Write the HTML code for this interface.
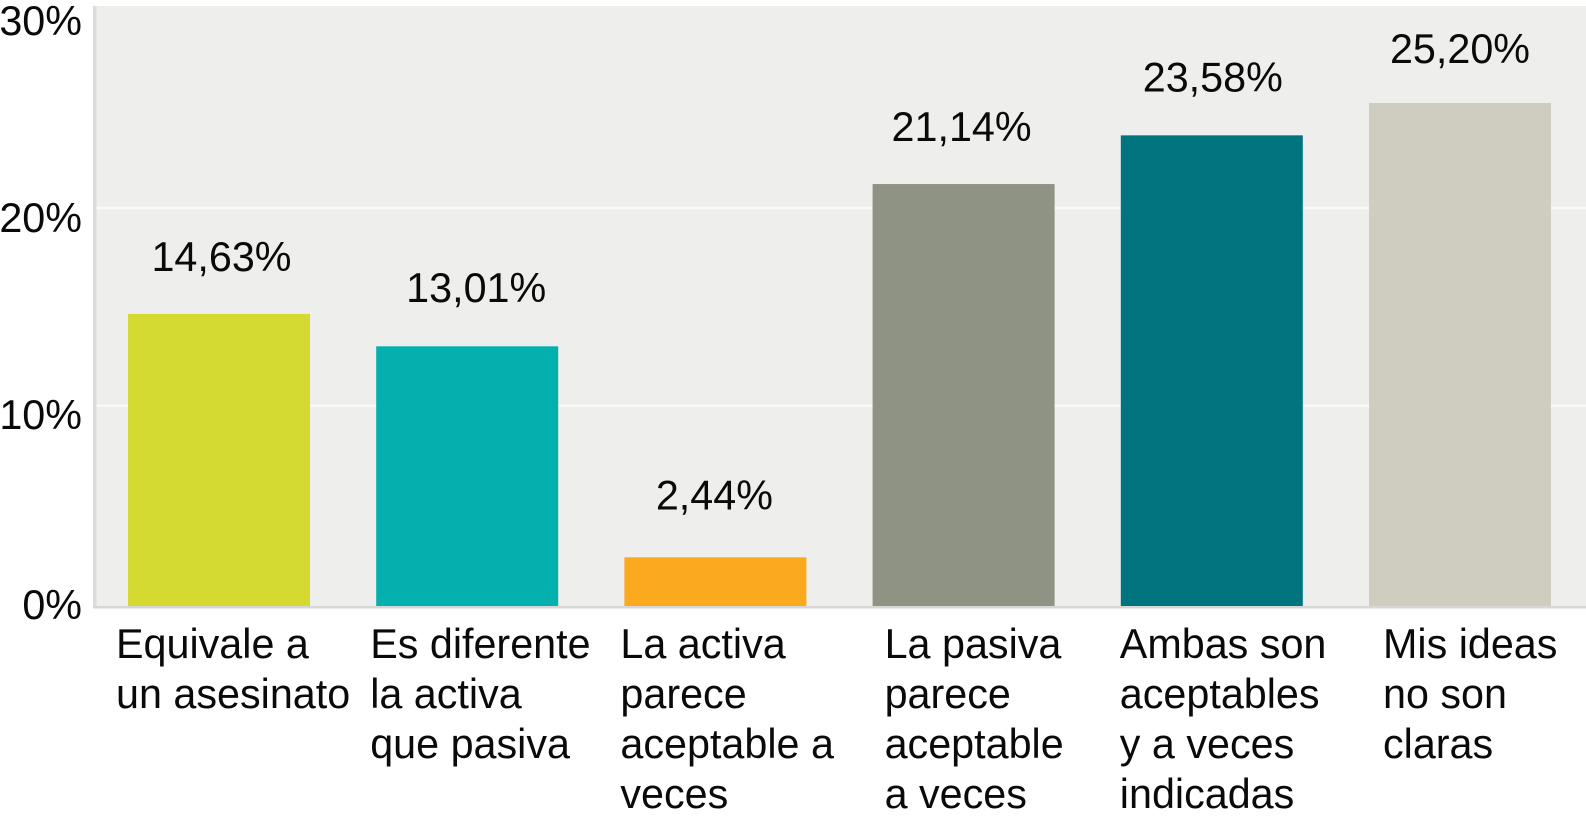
<!DOCTYPE html>
<html lang="es">
<head>
<meta charset="utf-8">
<title>Bar chart</title>
<style>
html,body{margin:0;padding:0;background:#fff;width:1586px;height:829px;overflow:hidden}
svg{display:block}
text{font-family:"Liberation Sans",Arial,sans-serif;font-size:41.3px;fill:#0a0a0a}
</style>
</head>
<body>
<svg id="chart" width="1586" height="829" viewBox="0 0 1586 829" xmlns="http://www.w3.org/2000/svg">
  <rect x="94" y="6" width="1492" height="601" fill="#eeeeec"/>
  <rect x="93" y="6" width="3.5" height="602" fill="#dcdcda"/>
</svg>
<script>
const categories = [
  ["Equivale a", "un asesinato"],
  ["Es diferente", "la activa", "que pasiva"],
  ["La activa", "parece", "aceptable a", "veces"],
  ["La pasiva", "parece", "aceptable", "a veces"],
  ["Ambas son", "aceptables", "y a veces", "indicadas"],
  ["Mis ideas", "no son", "claras"]
];
const values = [14.63, 13.01, 2.44, 21.14, 23.58, 25.20];
const yTicks = [0, 10, 20, 30];
const barColors = ["#d5da33", "#04b0ae", "#fba91f", "#8f9384", "#00747f", "#cfccc0"];
const categoryLabelShift = [-12, -6, -4, 12, -1, 14];
const valueLabelShift = [2.5, 9, -1, -2, 1, 0];
const valueLabelLift = [43, 44.5, 48, 43, 44, 40];
const tickLabelShift = [13, 22.6, 25.2, 27.8];
const gridShift = [0, -0.7, 1.2, 0];

const NS = "http://www.w3.org/2000/svg";
const svg = document.getElementById("chart");
const BASE_Y = 606;
const PX_PER_UNIT = 19.96;
const BAR_X0 = 128;
const BAR_PITCH = 248.2;
const BAR_W = 182;
const yScale = v => BASE_Y - v * PX_PER_UNIT;
const xScale = i => BAR_X0 + i * BAR_PITCH;
const make = tag => document.createElementNS(NS, tag);

yTicks.forEach((t, k) => {
  if (t > 0 && t < 30) {
    const g = make("rect");
    
    
    g.setAttribute("x", 96.5);
    g.setAttribute("y", yScale(t) + gridShift[k] - 1.25);
    g.setAttribute("width", 1489.5);
    g.setAttribute("height", 2.5);
    g.setAttribute("fill", "#f9f9f8");
    svg.appendChild(g);
  }
  const l = make("text");
  
  
  l.setAttribute("x", 82);
  l.setAttribute("y", yScale(t) + tickLabelShift[k]);
  l.setAttribute("text-anchor", "end");
  l.textContent = t + "%";
  svg.appendChild(l);
});

values.forEach((v, i) => {
  const b = make("rect");
  
  
  b.setAttribute("x", xScale(i));
  b.setAttribute("y", yScale(v));
  b.setAttribute("width", BAR_W);
  b.setAttribute("height", BASE_Y - yScale(v));
  b.setAttribute("fill", barColors[i]);
  svg.appendChild(b);

  const t = make("text");
  
  
  t.setAttribute("x", xScale(i) + BAR_W / 2 + valueLabelShift[i]);
  t.setAttribute("y", yScale(v) - valueLabelLift[i]);
  t.setAttribute("text-anchor", "middle");
  t.textContent = v.toFixed(2).replace(".", ",") + "%";
  svg.appendChild(t);

  categories[i].forEach((line, j) => {
    const c = make("text");
    
    
    c.setAttribute("x", xScale(i) + categoryLabelShift[i]);
    c.setAttribute("y", 658 + j * 50);
    c.textContent = line;
    svg.appendChild(c);
  });
});

const axis = make("rect");


axis.setAttribute("x", 93);
axis.setAttribute("y", 606);
axis.setAttribute("width", 1493);
axis.setAttribute("height", 2.5);
axis.setAttribute("fill", "#d6d6d4");
svg.appendChild(axis);
</script>
</body>
</html>
